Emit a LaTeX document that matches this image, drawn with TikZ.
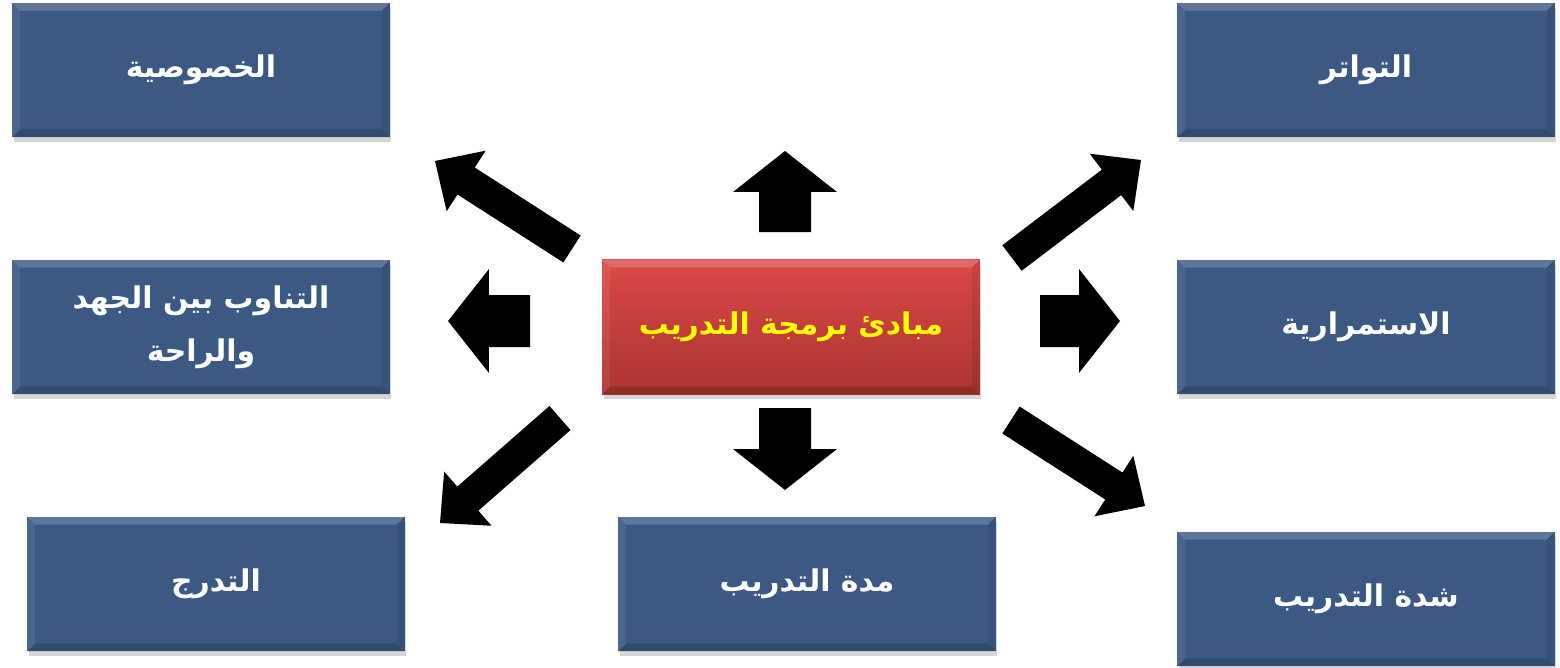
\documentclass[tikz,border=0pt]{standalone}
\usepackage{fontspec}
\newfontfamily\arabicfont[Script=Arabic]{DejaVu Sans}
\TeXXeTstate=1
\usepackage{xcolor}
\usepackage{tikz}
\usetikzlibrary{calc,shadows,positioning}

\definecolor{boxblue}{RGB}{59,89,131}
\definecolor{redtop}{RGB}{219,73,71}
\definecolor{redbot}{RGB}{170,52,50}
\definecolor{titleyellow}{RGB}{255,255,0}

\tikzset{
  % bevelled edges of the boxes
  bevel/.style={path picture={
    \def\bv{0.16cm}
    \coordinate (nw) at (path picture bounding box.north west);
    \coordinate (ne) at (path picture bounding box.north east);
    \coordinate (sw) at (path picture bounding box.south west);
    \coordinate (se) at (path picture bounding box.south east);
    \fill[white,opacity=.18] (nw) -- (ne) -- ($(ne)+(-\bv,-\bv)$) -- ($(nw)+(\bv,-\bv)$) -- cycle;
    \fill[white,opacity=.08] (nw) -- ($(nw)+(\bv,-\bv)$) -- ($(sw)+(\bv,\bv)$) -- (sw) -- cycle;
    \fill[black,opacity=.08] (ne) -- (se) -- ($(se)+(-\bv,\bv)$) -- ($(ne)+(-\bv,-\bv)$) -- cycle;
    \fill[black,opacity=.14] (sw) -- (se) -- ($(se)+(-\bv,\bv)$) -- ($(sw)+(\bv,\bv)$) -- cycle;
  }},
  box/.style={rectangle, minimum width=7.56cm, minimum height=2.7cm, inner sep=0pt,
    fill=boxblue, text=white, align=center,
    font=\arabicfont\bfseries\fontsize{17}{30}\selectfont,
    drop shadow={shadow xshift=0.03cm, shadow yshift=-0.1cm, opacity=0.3, fill=black!55}, bevel},
  mainbox/.style={box, top color=redtop, bottom color=redbot, text=titleyellow},
  % block arrows
  wide/.code={\def\arsw{0.52cm}\def\arhw{1.04cm}\def\arhl{0.82cm}},
  slim/.code={\def\arsw{0.32cm}\def\arhw{0.72cm}\def\arhl{0.74cm}},
  blockarrow/.style={fill=black, to path={
    -- ($(\tikztostart)!\arsw!90:(\tikztotarget)$)
    -- ($($(\tikztotarget)!\arhl!(\tikztostart)$)!\arsw!90:(\tikztotarget)$)
    -- ($($(\tikztotarget)!\arhl!(\tikztostart)$)!\arhw!90:(\tikztotarget)$)
    -- (\tikztotarget)
    -- ($($(\tikztotarget)!\arhl!(\tikztostart)$)!\arhw!-90:(\tikztotarget)$)
    -- ($($(\tikztotarget)!\arhl!(\tikztostart)$)!\arsw!-90:(\tikztotarget)$)
    -- ($(\tikztostart)!\arsw!-90:(\tikztotarget)$)
    -- cycle}},
}

\begin{document}
\begin{tikzpicture}[x=0.02cm, y=-0.02cm]
  \useasboundingbox (0,0) rectangle (1560,667);

  % centre box
  \node[mainbox] (main) at (791,327) {\beginR مبادئ برمجة التدريب\endR};

  % left column
  \node[box] (spec) at (201,70) {\beginR الخصوصية\endR};
  \node[box] (alt) at (201,327) {\beginR التناوب بين الجهد\endR\\\beginR والراحة\endR};
  \node[box] (grad) at (216,584) {\beginR التدرج\endR};

  % bottom middle
  \node[box] (dur) at (807,584) {\beginR مدة التدريب\endR};

  % right column
  \node[box] (freq) at (1366,70) {\beginR التواتر\endR};
  \node[box] (cont) at (1366,327) {\beginR الاستمرارية\endR};
  \node[box] (inten) at (1366,599) {\beginR شدة التدريب\endR};

  % arrow ends
  \coordinate (tup) at (785,232);   \coordinate (hup) at (785,151);
  \coordinate (tdown) at (785,408); \coordinate (hdown) at (785,490);
  \coordinate (tleft) at (530,321); \coordinate (hleft) at (448,321);
  \coordinate (tright) at (1040,321); \coordinate (hright) at (1120,321);
  \coordinate (tul) at (572,249);   \coordinate (hul) at (435,161);
  \coordinate (tur) at (1012,258);  \coordinate (hur) at (1141,160);
  \coordinate (tdl) at (560,418);   \coordinate (hdl) at (440,523);
  \coordinate (tdr) at (1011,420);  \coordinate (hdr) at (1145,506);

  % straight arrows
  \path[blockarrow, wide] (tup) to (hup);
  \path[blockarrow, wide] (tdown) to (hdown);
  \path[blockarrow, wide] (tleft) to (hleft);
  \path[blockarrow, wide] (tright) to (hright);
  % diagonal arrows
  \path[blockarrow, slim] (tul) to (hul);
  \path[blockarrow, slim] (tur) to (hur);
  \path[blockarrow, slim] (tdl) to (hdl);
  \path[blockarrow, slim] (tdr) to (hdr);
\end{tikzpicture}
\end{document}
